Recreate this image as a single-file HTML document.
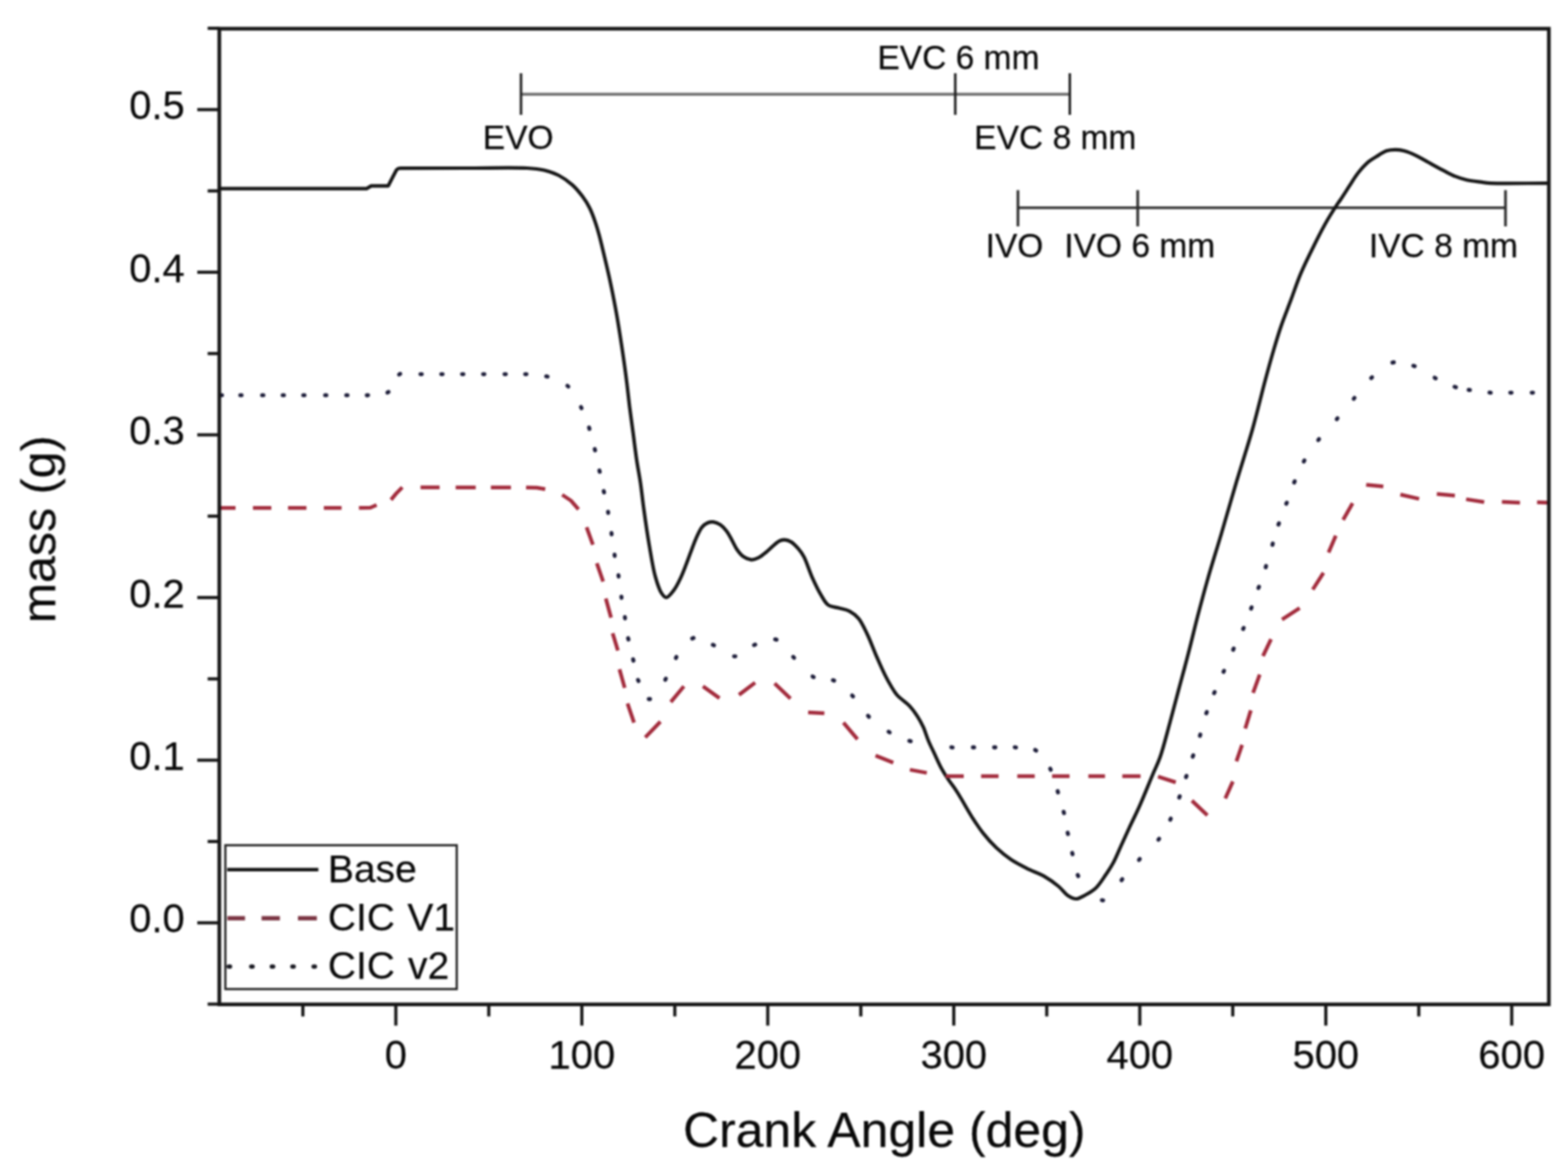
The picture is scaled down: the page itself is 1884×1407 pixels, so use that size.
<!DOCTYPE html>
<html><head><meta charset="utf-8"><title>mass vs crank angle</title>
<style>html,body{margin:0;padding:0;background:#fff;}body{width:1884px;height:1407px;overflow:hidden;}svg{display:block;}text{font-family:"Liberation Sans", Arial, Helvetica, sans-serif;fill:#080808;stroke:#080808;stroke-width:0.25px;}</style></head><body>
<svg width="1884" height="1407" viewBox="0 0 1884 1407">
<defs><filter id="b" x="-1%" y="-1%" width="102%" height="102%" color-interpolation-filters="sRGB"><feGaussianBlur stdDeviation="0.85"/></filter></defs>
<rect x="0" y="0" width="1884" height="1407" fill="#fff"/>
<g filter="url(#b)">
<g stroke-linecap="butt">
<line x1="626" y1="113.3" x2="1285.5" y2="113.3" stroke="#6e6e6e" stroke-width="3.6"/>
<line x1="626.0" y1="88" x2="626.0" y2="138" stroke="#1c1c1c" stroke-width="3.0"/>
<line x1="1147.8" y1="88" x2="1147.8" y2="138" stroke="#1c1c1c" stroke-width="3.0"/>
<line x1="1285.4" y1="88" x2="1285.4" y2="138" stroke="#1c1c1c" stroke-width="3.0"/>
<line x1="1223" y1="249.6" x2="1809" y2="249.6" stroke="#383838" stroke-width="3.2"/>
<line x1="1223.1" y1="228.5" x2="1223.1" y2="272" stroke="#2a2a2a" stroke-width="3.2"/>
<line x1="1367.0" y1="228.5" x2="1367.0" y2="272" stroke="#2a2a2a" stroke-width="3.2"/>
<line x1="1808.9" y1="228.5" x2="1808.9" y2="272" stroke="#2a2a2a" stroke-width="3.2"/>
</g>
<g font-size="40.3">
<text x="580" y="179.3">EVO</text>
<text x="1054.2" y="83.2">EVC 6 mm</text>
<text x="1170.6" y="179.3">EVC 8 mm</text>
<text x="1184.2" y="308.8">IVO</text>
<text x="1278.8" y="308.8">IVO 6 mm</text>
<text x="1644.8" y="308.5">IVC 8 mm</text>
</g>
<path d="M263,226.6 L440.5,226.6 L446,223.4 L466.5,223.3 L472,212.5 L476.5,204 Q478,202.2 481,202.1 L560,202.0 C584.4,202.0 616.4,201.0 633.3,202.0 C642.3,202.5 647.4,203.0 653.8,204.5 C659.8,205.9 665.4,207.7 670.9,210.5 C676.8,213.5 683.0,218.0 687.9,222.4 C692.5,226.6 696.4,231.4 699.9,236.1 C703.2,240.5 705.9,244.8 708.4,249.7 C711.1,255.0 713.3,261.2 715.2,266.8 C717.0,272.0 718.3,276.4 719.8,282.0 C721.7,289.0 723.6,297.1 725.6,305.6 C727.9,315.4 730.7,326.9 733.0,337.6 C735.3,348.2 737.4,358.9 739.4,369.6 C741.4,380.2 743.2,391.2 744.8,401.5 C746.3,411.1 747.6,419.7 749.0,429.3 C750.5,439.6 752.0,450.9 753.3,461.2 C754.5,470.8 755.3,479.4 756.5,489.0 C757.8,499.3 759.4,510.3 760.8,520.9 C762.2,531.6 763.5,542.7 765.0,552.9 C766.4,562.3 768.1,570.6 769.5,580.0 C771.0,590.2 772.0,600.5 773.6,611.9 C775.4,625.1 777.6,640.7 780.0,654.5 C782.3,667.7 784.4,682.3 787.4,692.9 C789.6,700.7 791.9,708.4 794.8,712.7 C796.5,715.3 798.4,718.0 800.5,718.0 C803.1,718.0 806.5,713.3 809.1,709.9 C812.3,705.8 815.2,699.9 817.7,694.6 C820.3,689.3 822.3,683.7 824.4,678.3 C826.4,673.2 828.1,668.3 830.1,663.1 C832.2,657.5 834.4,651.1 836.8,645.9 C838.9,641.3 840.9,636.5 843.5,633.4 C845.5,631.0 847.8,629.2 850.2,628.2 C852.3,627.3 854.6,626.9 856.9,627.2 C859.6,627.5 862.9,628.9 865.5,630.6 C868.3,632.5 870.8,635.2 873.1,638.2 C875.6,641.5 877.7,645.9 879.8,649.7 C881.8,653.3 883.2,657.0 885.5,660.2 C887.7,663.4 890.2,666.7 893.2,668.8 C896.0,670.8 899.6,672.4 902.7,672.6 C905.6,672.8 908.5,671.5 911.3,670.2 C914.3,668.8 917.0,666.3 919.9,664.0 C923.1,661.4 926.4,657.9 929.5,655.4 C932.1,653.2 934.6,650.8 937.1,649.7 C939.1,648.9 940.9,648.6 942.9,648.7 C945.3,648.9 948.0,649.7 950.5,651.1 C953.5,652.9 956.5,656.2 959.1,659.2 C961.6,662.1 963.6,664.7 965.8,668.8 C969.2,675.0 972.3,685.9 975.9,693.8 C979.3,701.3 983.0,709.2 986.6,715.1 C989.4,719.7 991.4,724.3 995.1,726.9 C998.6,729.4 1003.6,729.3 1007.9,730.5 C1012.2,731.7 1016.8,732.3 1020.7,734.3 C1024.6,736.4 1028.2,739.1 1031.4,742.9 C1035.5,747.7 1038.6,755.1 1042.0,762.0 C1045.8,769.8 1049.1,779.3 1052.7,787.6 C1056.2,795.6 1060.0,804.3 1063.4,811.1 C1066.0,816.4 1068.5,820.8 1071.0,825.0 C1073.2,828.6 1074.7,831.6 1077.6,834.9 C1081.4,839.2 1088.2,843.4 1092.5,847.9 C1096.4,852.0 1099.5,856.4 1102.4,860.8 C1105.1,865.0 1107.3,869.1 1109.4,873.7 C1111.7,878.7 1113.2,884.5 1115.4,889.7 C1117.5,894.8 1119.8,899.3 1122.3,904.6 C1125.1,910.5 1128.2,917.9 1131.3,923.5 C1133.9,928.3 1136.4,932.1 1139.3,936.4 C1142.4,941.0 1146.3,945.9 1149.2,950.3 C1151.8,954.2 1153.4,957.1 1156.0,961.5 C1159.6,967.6 1164.5,976.5 1168.9,983.3 C1173.0,989.6 1176.7,995.3 1181.3,1001.1 C1186.1,1007.2 1191.6,1013.4 1197.3,1018.8 C1202.9,1024.0 1208.7,1028.8 1215.1,1033.0 C1221.7,1037.4 1229.6,1041.2 1236.4,1044.6 C1242.5,1047.6 1248.4,1049.3 1254.2,1052.6 C1260.3,1056.1 1266.9,1060.8 1271.9,1065.0 C1276.1,1068.5 1278.8,1073.2 1282.6,1075.7 C1285.9,1077.9 1289.5,1080.0 1293.0,1080.0 C1296.6,1080.0 1300.2,1077.5 1303.9,1075.5 C1308.2,1073.2 1313.0,1070.5 1317.0,1066.7 C1321.4,1062.5 1325.2,1056.0 1328.8,1050.8 C1332.1,1046.0 1334.9,1041.8 1337.7,1036.6 C1340.9,1030.7 1343.5,1023.9 1346.6,1017.1 C1350.0,1009.7 1353.5,1001.9 1357.2,993.9 C1361.2,985.3 1365.4,977.0 1369.7,967.3 C1374.7,956.0 1380.8,940.6 1385.2,930.2 C1388.4,922.5 1390.9,918.2 1393.7,910.3 C1397.6,899.4 1401.4,884.0 1405.1,870.5 C1408.9,856.6 1412.6,842.1 1416.4,827.9 C1420.2,813.7 1424.1,799.7 1427.8,785.3 C1431.7,770.4 1435.3,754.7 1439.2,739.8 C1443.0,725.3 1446.5,712.1 1450.8,697.0 C1455.6,680.0 1461.4,661.8 1467.0,643.0 C1473.1,622.4 1479.5,599.6 1485.9,578.2 C1492.1,557.3 1498.9,536.9 1504.8,516.1 C1510.6,495.5 1516.2,471.6 1521.0,454.0 C1524.5,441.0 1527.3,430.8 1530.5,420.0 C1533.4,410.1 1536.0,401.3 1539.3,391.7 C1542.8,381.5 1547.2,370.8 1551.1,360.3 C1555.0,349.8 1558.4,339.4 1562.8,328.9 C1567.5,317.8 1573.4,305.9 1578.6,295.5 C1583.2,286.1 1587.6,277.4 1592.3,269.0 C1596.7,261.1 1602.6,251.8 1606.0,246.6 C1607.9,243.7 1608.8,242.7 1610.6,240.0 C1613.4,235.8 1617.7,229.1 1621.2,223.7 C1624.7,218.4 1627.9,212.7 1631.8,207.8 C1635.7,202.9 1640.2,197.9 1644.6,194.2 C1648.4,191.0 1652.6,188.9 1656.3,186.6 C1659.6,184.6 1662.4,182.3 1665.8,181.2 C1669.1,180.1 1672.9,179.8 1676.4,179.8 C1679.9,179.8 1683.3,180.3 1687.0,181.3 C1691.4,182.4 1696.4,184.6 1700.8,186.6 C1704.9,188.5 1708.8,190.9 1712.5,192.9 C1715.9,194.8 1718.6,196.4 1722.1,198.3 C1726.3,200.6 1731.4,203.4 1735.9,205.7 C1740.2,207.9 1744.2,210.2 1748.6,211.9 C1753.0,213.7 1757.4,215.1 1762.4,216.2 C1768.0,217.5 1775.3,218.2 1780.5,218.9 C1784.5,219.4 1786.0,219.8 1791.1,220.1 C1804.0,220.8 1837.0,220.1 1860.0,220.1" fill="none" stroke="#151515" stroke-width="4.20" stroke-linejoin="round"/>
<g fill="none" stroke="#a22a3b" stroke-width="4.50" stroke-linecap="butt" stroke-linejoin="round">
<polyline points="263.3,610.3 283.0,610.3"/>
<polyline points="303.9,610.3 326.0,610.3"/>
<polyline points="346.1,610.3 368.2,610.3"/>
<polyline points="389.1,610.3 410.4,610.3"/>
<polyline points="431.3,610.3 445.0,610.0 452.5,606.7"/>
<polyline points="469.8,600.5 476.0,593.0 483.4,585.5"/>
<polyline points="505.3,585.6 528.2,585.6"/>
<polyline points="547.5,585.7 571.6,585.7"/>
<polyline points="589.8,585.7 613.9,585.7"/>
<polyline points="632.1,585.7 645.0,586.0 655.1,587.8"/>
<polyline points="675.5,594.5 686.0,601.5 695.1,611.9"/>
<polyline points="704.8,633.4 712.4,654.4"/>
<polyline points="717.1,676.7 724.7,698.7"/>
<polyline points="727.9,719.2 734.2,742.2"/>
<polyline points="736.1,760.9 742.4,781.7"/>
<polyline points="744.3,804.2 750.6,826.5"/>
<polyline points="754.0,845.3 761.8,868.3"/>
<polyline points="775.3,886.0 793.5,867.1"/>
<polyline points="806.0,843.5 821.7,824.6"/>
<polyline points="844.6,824.7 864.5,838.9"/>
<polyline points="887.9,834.9 907.3,820.3"/>
<polyline points="930.7,821.2 949.8,839.3"/>
<polyline points="971.0,855.9 990.5,856.9"/>
<polyline points="1013.4,868.3 1030.3,888.2"/>
<polyline points="1052.0,907.8 1073.3,916.3"/>
<polyline points="1093.3,924.9 1113.6,928.6"/>
<polyline points="1136.2,932.6 1158.0,932.6"/>
<polyline points="1178.8,932.6 1199.8,932.6"/>
<polyline points="1222.3,932.6 1243.3,932.6"/>
<polyline points="1264.1,932.6 1285.1,932.6"/>
<polyline points="1307.7,932.6 1327.7,932.6"/>
<polyline points="1348.5,932.6 1370.4,932.6"/>
<polyline points="1391.4,933.2 1412.7,940.0"/>
<polyline points="1432.1,962.0 1450.7,979.7"/>
<polyline points="1472.2,959.3 1481.3,939.0"/>
<polyline points="1485.6,914.7 1492.4,895.1"/>
<polyline points="1496.2,875.3 1502.9,853.5"/>
<polyline points="1505.6,832.5 1513.6,810.6"/>
<polyline points="1517.5,788.2 1527.2,768.0"/>
<polyline points="1540.4,744.3 1561.6,730.7"/>
<polyline points="1577.3,708.4 1590.2,688.3"/>
<polyline points="1596.3,663.8 1605.0,643.7"/>
<polyline points="1613.8,624.7 1625.2,604.6"/>
<polyline points="1641.5,582.4 1662.1,584.6"/>
<polyline points="1682.6,594.3 1705.1,599.4"/>
<polyline points="1726.4,593.6 1748.1,595.4"/>
<polyline points="1761.6,599.9 1783.3,603.2"/>
<polyline points="1804.6,603.1 1826.3,603.9"/>
<polyline points="1846.8,603.5 1860.2,603.9"/>
</g>
<g stroke="#1c1c38" stroke-width="4.80" stroke-linecap="round">
<line x1="265.2" y1="474.9" x2="266.8" y2="474.9"/>
<line x1="288.7" y1="474.9" x2="290.3" y2="474.9"/>
<line x1="314.9" y1="474.9" x2="316.5" y2="474.9"/>
<line x1="339.6" y1="474.9" x2="341.2" y2="474.9"/>
<line x1="364.3" y1="474.9" x2="365.9" y2="474.9"/>
<line x1="390.6" y1="474.9" x2="392.2" y2="474.9"/>
<line x1="416.0" y1="474.9" x2="417.6" y2="474.9"/>
<line x1="440.7" y1="475.0" x2="442.3" y2="474.8"/>
<line x1="465.5" y1="471.7" x2="466.9" y2="470.9"/>
<line x1="479.5" y1="450.0" x2="480.9" y2="449.2"/>
<line x1="505.2" y1="449.6" x2="506.8" y2="449.6"/>
<line x1="530.2" y1="449.6" x2="531.8" y2="449.6"/>
<line x1="555.2" y1="449.6" x2="556.8" y2="449.6"/>
<line x1="580.4" y1="449.6" x2="582.0" y2="449.6"/>
<line x1="606.2" y1="449.6" x2="607.8" y2="449.6"/>
<line x1="631.0" y1="449.6" x2="632.6" y2="449.6"/>
<line x1="656.3" y1="452.1" x2="657.9" y2="452.5"/>
<line x1="681.7" y1="463.5" x2="682.9" y2="464.5"/>
<line x1="698.0" y1="489.1" x2="698.8" y2="490.5"/>
<line x1="707.8" y1="513.7" x2="708.2" y2="515.3"/>
<line x1="714.6" y1="539.5" x2="715.0" y2="541.1"/>
<line x1="720.2" y1="565.3" x2="720.6" y2="566.9"/>
<line x1="725.4" y1="590.0" x2="725.8" y2="591.6"/>
<line x1="730.6" y1="614.8" x2="730.8" y2="616.4"/>
<line x1="734.7" y1="640.5" x2="734.9" y2="642.1"/>
<line x1="738.4" y1="666.4" x2="738.6" y2="668.0"/>
<line x1="743.1" y1="691.2" x2="743.3" y2="692.8"/>
<line x1="746.6" y1="716.8" x2="746.8" y2="718.4"/>
<line x1="750.8" y1="741.4" x2="751.0" y2="743.0"/>
<line x1="754.7" y1="766.8" x2="755.1" y2="768.4"/>
<line x1="760.7" y1="792.2" x2="761.1" y2="793.8"/>
<line x1="766.6" y1="816.9" x2="767.2" y2="818.3"/>
<line x1="779.5" y1="840.0" x2="781.1" y2="840.0"/>
<line x1="799.3" y1="816.8" x2="800.1" y2="815.4"/>
<line x1="812.0" y1="790.7" x2="812.8" y2="789.3"/>
<line x1="831.7" y1="767.2" x2="833.3" y2="766.6"/>
<line x1="856.5" y1="774.8" x2="857.9" y2="775.4"/>
<line x1="882.0" y1="788.6" x2="883.6" y2="788.6"/>
<line x1="906.0" y1="775.1" x2="907.4" y2="774.5"/>
<line x1="931.4" y1="768.2" x2="933.0" y2="768.6"/>
<line x1="953.0" y1="789.2" x2="954.2" y2="790.4"/>
<line x1="976.3" y1="812.8" x2="977.7" y2="813.6"/>
<line x1="1000.8" y1="817.2" x2="1002.2" y2="817.8"/>
<line x1="1023.8" y1="835.6" x2="1025.0" y2="836.8"/>
<line x1="1042.9" y1="860.0" x2="1044.1" y2="861.2"/>
<line x1="1067.6" y1="879.2" x2="1069.0" y2="880.0"/>
<line x1="1092.6" y1="890.2" x2="1094.2" y2="890.6"/>
<line x1="1143.0" y1="897.9" x2="1144.6" y2="898.1"/>
<line x1="1168.9" y1="898.0" x2="1170.5" y2="898.0"/>
<line x1="1194.4" y1="898.0" x2="1196.0" y2="898.0"/>
<line x1="1219.2" y1="897.9" x2="1220.8" y2="898.1"/>
<line x1="1243.7" y1="901.1" x2="1245.1" y2="901.9"/>
<line x1="1261.8" y1="923.6" x2="1262.6" y2="925.0"/>
<line x1="1270.8" y1="950.5" x2="1271.2" y2="952.1"/>
<line x1="1278.0" y1="975.4" x2="1278.4" y2="977.0"/>
<line x1="1282.8" y1="1000.5" x2="1283.2" y2="1002.1"/>
<line x1="1288.3" y1="1024.8" x2="1288.7" y2="1026.4"/>
<line x1="1294.8" y1="1051.3" x2="1295.6" y2="1052.7"/>
<line x1="1323.9" y1="1081.6" x2="1325.5" y2="1081.8"/>
<line x1="1347.5" y1="1057.6" x2="1348.5" y2="1056.4"/>
<line x1="1368.5" y1="1033.3" x2="1369.5" y2="1032.1"/>
<line x1="1391.8" y1="1009.0" x2="1392.8" y2="1007.8"/>
<line x1="1406.0" y1="985.0" x2="1406.8" y2="983.6"/>
<line x1="1416.9" y1="958.3" x2="1417.5" y2="956.7"/>
<line x1="1425.0" y1="933.8" x2="1425.6" y2="932.2"/>
<line x1="1433.1" y1="909.2" x2="1433.7" y2="907.6"/>
<line x1="1441.8" y1="884.1" x2="1442.2" y2="882.5"/>
<line x1="1449.4" y1="857.1" x2="1450.0" y2="855.5"/>
<line x1="1458.8" y1="832.9" x2="1459.4" y2="831.5"/>
<line x1="1470.1" y1="807.3" x2="1470.7" y2="805.9"/>
<line x1="1481.7" y1="780.7" x2="1482.3" y2="779.3"/>
<line x1="1493.7" y1="755.8" x2="1494.3" y2="754.4"/>
<line x1="1503.2" y1="731.2" x2="1503.8" y2="729.8"/>
<line x1="1512.1" y1="706.5" x2="1512.7" y2="704.9"/>
<line x1="1520.8" y1="681.6" x2="1521.2" y2="680.0"/>
<line x1="1528.9" y1="654.6" x2="1529.3" y2="653.0"/>
<line x1="1536.1" y1="630.3" x2="1536.7" y2="628.7"/>
<line x1="1545.5" y1="605.3" x2="1546.1" y2="603.9"/>
<line x1="1555.0" y1="579.7" x2="1555.6" y2="578.3"/>
<line x1="1566.5" y1="554.6" x2="1567.3" y2="553.2"/>
<line x1="1583.9" y1="528.8" x2="1584.9" y2="527.6"/>
<line x1="1606.1" y1="503.7" x2="1607.1" y2="502.5"/>
<line x1="1626.5" y1="479.2" x2="1627.5" y2="478.0"/>
<line x1="1647.4" y1="454.3" x2="1648.6" y2="453.3"/>
<line x1="1673.1" y1="435.7" x2="1674.7" y2="435.3"/>
<line x1="1698.2" y1="439.4" x2="1699.8" y2="440.0"/>
<line x1="1723.7" y1="453.8" x2="1725.1" y2="454.6"/>
<line x1="1747.7" y1="464.7" x2="1749.3" y2="465.3"/>
<line x1="1764.6" y1="468.5" x2="1766.2" y2="468.7"/>
<line x1="1789.6" y1="471.7" x2="1791.2" y2="471.9"/>
<line x1="1814.6" y1="471.8" x2="1816.2" y2="471.8"/>
<line x1="1840.4" y1="471.8" x2="1842.0" y2="471.8"/>
</g>
<g stroke="#151515" fill="none">
<rect x="263.5" y="34.5" width="1597.5" height="1172.3" stroke-width="4.40"/>
<line x1="249.5" y1="1206.5" x2="263.5" y2="1206.5" stroke-width="3.80"/>
<line x1="237.0" y1="1108.8" x2="263.5" y2="1108.8" stroke-width="3.80"/>
<line x1="249.5" y1="1011.1" x2="263.5" y2="1011.1" stroke-width="3.80"/>
<line x1="237.0" y1="913.4" x2="263.5" y2="913.4" stroke-width="3.80"/>
<line x1="249.5" y1="815.7" x2="263.5" y2="815.7" stroke-width="3.80"/>
<line x1="237.0" y1="718.0" x2="263.5" y2="718.0" stroke-width="3.80"/>
<line x1="249.5" y1="620.2" x2="263.5" y2="620.2" stroke-width="3.80"/>
<line x1="237.0" y1="522.5" x2="263.5" y2="522.5" stroke-width="3.80"/>
<line x1="249.5" y1="424.8" x2="263.5" y2="424.8" stroke-width="3.80"/>
<line x1="237.0" y1="327.1" x2="263.5" y2="327.1" stroke-width="3.80"/>
<line x1="249.5" y1="229.4" x2="263.5" y2="229.4" stroke-width="3.80"/>
<line x1="237.0" y1="131.7" x2="263.5" y2="131.7" stroke-width="3.80"/>
<line x1="249.5" y1="34.0" x2="263.5" y2="34.0" stroke-width="3.80"/>
<line x1="363.9" y1="1206.8" x2="363.9" y2="1221.3" stroke-width="3.80"/>
<line x1="475.6" y1="1206.8" x2="475.6" y2="1232.3" stroke-width="3.80"/>
<line x1="587.3" y1="1206.8" x2="587.3" y2="1221.3" stroke-width="3.80"/>
<line x1="699.1" y1="1206.8" x2="699.1" y2="1232.3" stroke-width="3.80"/>
<line x1="810.8" y1="1206.8" x2="810.8" y2="1221.3" stroke-width="3.80"/>
<line x1="922.5" y1="1206.8" x2="922.5" y2="1232.3" stroke-width="3.80"/>
<line x1="1034.3" y1="1206.8" x2="1034.3" y2="1221.3" stroke-width="3.80"/>
<line x1="1146.0" y1="1206.8" x2="1146.0" y2="1232.3" stroke-width="3.80"/>
<line x1="1257.7" y1="1206.8" x2="1257.7" y2="1221.3" stroke-width="3.80"/>
<line x1="1369.5" y1="1206.8" x2="1369.5" y2="1232.3" stroke-width="3.80"/>
<line x1="1481.2" y1="1206.8" x2="1481.2" y2="1221.3" stroke-width="3.80"/>
<line x1="1593.0" y1="1206.8" x2="1593.0" y2="1232.3" stroke-width="3.80"/>
<line x1="1704.7" y1="1206.8" x2="1704.7" y2="1221.3" stroke-width="3.80"/>
<line x1="1816.4" y1="1206.8" x2="1816.4" y2="1232.3" stroke-width="3.80"/>
</g>
<g font-size="48.0" text-anchor="end">
<text x="222" y="1120.3">0.0</text>
<text x="222" y="924.9">0.1</text>
<text x="222" y="729.5">0.2</text>
<text x="222" y="534.0">0.3</text>
<text x="222" y="338.6">0.4</text>
<text x="222" y="143.2">0.5</text>
</g>
<g font-size="48.0" text-anchor="middle">
<text x="475.6" y="1283.8">0</text>
<text x="699.1" y="1283.8">100</text>
<text x="922.5" y="1283.8">200</text>
<text x="1146.0" y="1283.8">300</text>
<text x="1369.5" y="1283.8">400</text>
<text x="1593.0" y="1283.8">500</text>
<text x="1816.4" y="1283.8">600</text>
</g>
<text x="1062.5" y="1377.8" font-size="60.0" text-anchor="middle">Crank Angle (deg)</text>
<text transform="translate(66.2,636) rotate(-90)" font-size="58.0" text-anchor="middle">mass (g)</text>
<rect x="270.8" y="1015.6" width="278" height="172.8" fill="none" stroke="#1e1e1e" stroke-width="2.6"/>
<line x1="273" y1="1044.8" x2="382.5" y2="1044.8" stroke="#151515" stroke-width="4.20"/>
<g stroke="#7a3442" stroke-width="5.20">
<line x1="273.2" y1="1103.3" x2="294.4" y2="1103.3"/>
<line x1="314.3" y1="1103.3" x2="336.3" y2="1103.3"/>
<line x1="358.0" y1="1103.3" x2="380.7" y2="1103.3"/>
</g>
<g stroke="#1a1a22" stroke-width="5.20" stroke-linecap="round">
<line x1="274.8" y1="1161.3" x2="276.4" y2="1161.3"/>
<line x1="301.9" y1="1161.3" x2="303.5" y2="1161.3"/>
<line x1="326.6" y1="1161.3" x2="328.2" y2="1161.3"/>
<line x1="351.3" y1="1161.3" x2="352.9" y2="1161.3"/>
<line x1="376.8" y1="1161.3" x2="378.4" y2="1161.3"/>
</g>
<g font-size="46.8">
<text x="394" y="1059.8">Base</text>
<text x="394" y="1117.7">CIC <tspan dx="2">V1</tspan></text>
<text x="394" y="1176">CIC <tspan dx="2.7">v2</tspan></text>
</g>
</g></svg></body></html>
